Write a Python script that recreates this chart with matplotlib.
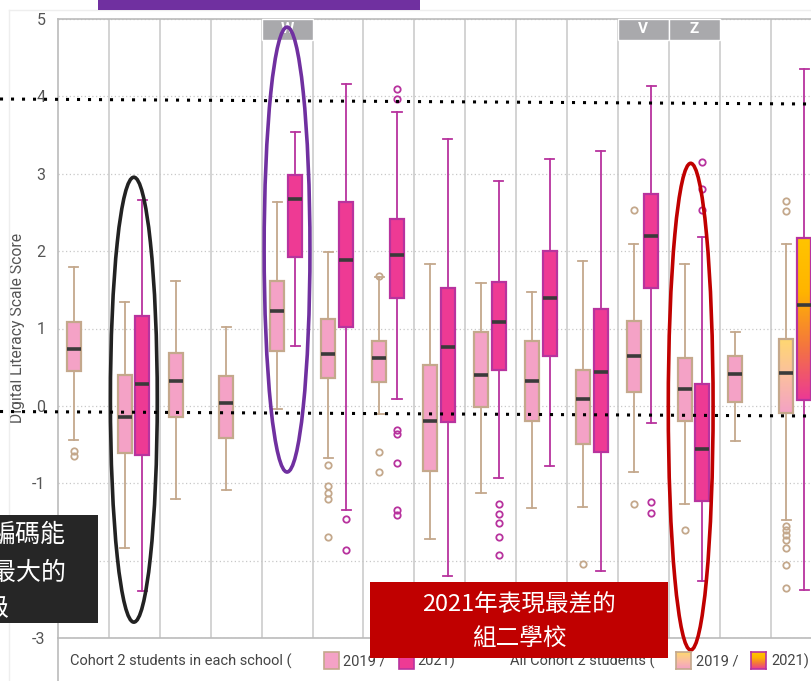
import numpy as np
import matplotlib.pyplot as plt
from matplotlib.patches import Rectangle, Ellipse
from matplotlib.lines import Line2D
from matplotlib.colors import LinearSegmentedColormap

plt.rcParams['font.family'] = ['Roboto', 'Noto Sans CJK TC', 'DejaVu Sans']

# ---- data ----
labels = ["", "", "", "", "W", "", "", "", "", "", "", "V", "Z", "", ""]

# 2019 boxes (one per column), the last column is all cohort 2 students
lo_2019 = [-0.44, -1.84, -1.21, -1.09, -0.04, -0.68, -0.11, -1.72, -1.12, -1.32, -1.31, -0.86, -1.27, -0.46, -1.48]
q1_2019 = [0.45, -0.61, -0.15, -0.42, 0.71, 0.36, 0.31, -0.84, -0.02, -0.19, -0.49, 0.18, -0.19, 0.05, -0.09]
med_2019 = [0.74, -0.14, 0.32, 0.04, 1.23, 0.67, 0.62, -0.19, 0.40, 0.32, 0.09, 0.65, 0.22, 0.41, 0.43]
q3_2019 = [1.08, 0.40, 0.68, 0.38, 1.62, 1.12, 0.84, 0.53, 0.95, 0.84, 0.47, 1.10, 0.62, 0.64, 0.87]
hi_2019 = [1.79, 1.34, 1.62, 1.02, 2.64, 1.99, 1.66, 1.84, 1.59, 1.47, 1.87, 2.09, 1.83, 0.95, 2.09]
out_2019 = [[-0.58, -0.65], [], [], [], [], [-0.76, -1.04, -1.13, -1.21, -1.69],
            [1.68, -0.59, -0.85], [], [], [], [-2.05], [2.53, -1.27], [-1.60], [],
            [2.65, 2.52, -1.55, -1.60, -1.67, -1.73, -1.84, -2.06, -2.36]]

# 2021 boxes (None = no box)
lo_2021 = [None, -2.39, None, None, 0.78, -1.34, 0.09, -2.20, -0.93, -0.78, -2.13, -0.22, -2.26, None, -2.38]
q1_2021 = [None, -0.63, None, None, 1.93, 1.02, 1.40, -0.21, 0.47, 0.65, -0.60, 1.52, -1.23, None, 0.08]
med_2021 = [None, 0.28, None, None, 2.67, 1.88, 1.95, 0.76, 1.08, 1.40, 0.44, 2.19, -0.56, None, 1.31]
q3_2021 = [None, 1.16, None, None, 2.99, 2.64, 2.42, 1.52, 1.60, 2.00, 1.25, 2.74, 0.28, None, 2.17]
hi_2021 = [None, 2.66, None, None, 3.54, 4.16, 3.80, 3.45, 2.91, 3.19, 3.30, 4.13, 2.18, None, 4.35]
out_2021 = [[], [], [], [], [], [-1.46, -1.86], [4.10, 3.97, -0.31, -0.36, -0.74, -1.34, -1.41],
            [], [-1.27, -1.40, -1.52, -1.69, -1.93], [], [], [-1.24, -1.39], [3.15, 2.80, 2.53], [], []]

yticks = [5, 4, 3, 2, 1, 0, -1, -2, -3]

W, H = 811, 681
fig = plt.figure(figsize=(W / 100, H / 100), dpi=100)


def fx(px):
    return px / W


def fy(py):
    return 1 - py / H


ax = fig.add_axes([fx(58), fy(638), (W - 58) / W, (638 - 19) / H])

n = len(labels)
pos19 = np.arange(n) + 0.31
pos21 = np.arange(n) + 0.66
bw = 0.275


def stats(lo, q1, med, q3, hi, out, idx):
    return [dict(whislo=lo[i], q1=q1[i], med=med[i], q3=q3[i], whishi=hi[i], fliers=out[i]) for i in idx]


tan = '#c4a88c'
pink = '#f4a2c6'
mag_edge = '#b8339e'
mag_fill = '#ee3a94'


def draw(st, positions, face, edge, wcol):
    ax.bxp(st, positions=positions, widths=bw, patch_artist=True, capwidths=0.18,
           boxprops=dict(facecolor=face, edgecolor=edge, linewidth=1.6),
           whiskerprops=dict(color=wcol, linewidth=1.3),
           capprops=dict(color=wcol, linewidth=1.3),
           medianprops=dict(color='#3a3a3a', linewidth=2.6, solid_capstyle='butt'),
           flierprops=dict(marker='o', markerfacecolor='none', markeredgecolor=wcol,
                           markersize=4.6, markeredgewidth=1.3))


idx19 = list(range(n - 1))
idx21 = [i for i in range(n - 1) if med_2021[i] is not None]
draw(stats(lo_2019, q1_2019, med_2019, q3_2019, hi_2019, out_2019, idx19), pos19[idx19], pink, tan, tan)
draw(stats(lo_2021, q1_2021, med_2021, q3_2021, hi_2021, out_2021, idx21), pos21[idx21], mag_fill, mag_edge, mag_edge)

# all cohort 2 students, gradient boxes
last = n - 1
draw(stats(lo_2019, q1_2019, med_2019, q3_2019, hi_2019, out_2019, [last]), [pos19[last]], 'none', tan, tan)
draw(stats(lo_2021, q1_2021, med_2021, q3_2021, hi_2021, out_2021, [last]), [pos21[last]], 'none', mag_edge, mag_edge)
cm19 = LinearSegmentedColormap.from_list('g19', ['#f4a2c4', '#fbbfa0', '#ffd870'])
cm21 = LinearSegmentedColormap.from_list('g21', ['#ec3a94', '#f4763e', '#ffb400', '#ffc400'])
grad = np.linspace(0, 1, 100).reshape(-1, 1)
ax.imshow(grad, cmap=cm19, origin='lower', aspect='auto', zorder=1.9,
          extent=[pos19[last] - bw / 2, pos19[last] + bw / 2, q1_2019[last], q3_2019[last]])
ax.imshow(grad, cmap=cm21, origin='lower', aspect='auto', zorder=1.9,
          extent=[pos21[last] - bw / 2, pos21[last] + bw / 2, q1_2021[last], q3_2021[last]])

ax.set_xlim(0, (W - 58) / 50.9)
ax.set_ylim(-3, 5)
ax.set_xticks(range(1, n))
ax.set_xticklabels([])
ax.set_yticks(yticks)
ax.set_yticklabels([str(t) for t in yticks])
ax.tick_params(length=0, labelsize=11.5, labelcolor='#555555', pad=9)
ax.xaxis.grid(True, color='#cccccc', linewidth=1.2)
ax.yaxis.grid(True, color='#c8c8c8', linewidth=0.9, linestyle=(0, (1, 2)))
ax.set_axisbelow(True)
for s in ['left', 'bottom', 'top']:
    ax.spines[s].set_color('#bbbbbb')
    ax.spines[s].set_linewidth(1.2)
ax.spines['right'].set_visible(False)
ax.set_ylabel('Digital Literacy Scale Score', fontsize=11.3, color='#555555')
ax.yaxis.set_label_coords(-33 / (W - 58), (638 - 328) / (638 - 19))

# group label tabs
for i, lab in enumerate(labels):
    if lab:
        ax.add_patch(Rectangle((i, 5 - 21 / 77.4), 1, 21 / 77.4, facecolor='#a9a9ac',
                               edgecolor='white', linewidth=1, zorder=3, clip_on=False))
        ax.text(i + 0.5, 5 - 10.5 / 77.4, lab, ha='center', va='center', color='white',
                fontsize=11, fontweight='bold', zorder=4)

# highlight ellipses
ax.add_patch(Ellipse((1.49, 0.08), 0.92, 5.75, fill=False, edgecolor='#222222', linewidth=2.6,
                     zorder=6, clip_on=False))
ax.add_patch(Ellipse((4.50, 2.02), 0.90, 5.75, fill=False, edgecolor='#7030a0', linewidth=2.6,
                     zorder=6, clip_on=False))
ax.add_patch(Ellipse((12.43, -0.01), 0.88, 6.29, fill=False, edgecolor='#c00000', linewidth=2.6,
                     zorder=6, clip_on=False))

# black dotted reference lines
for y0, y1 in [(99, 104), (411.5, 416)]:
    fig.add_artist(Line2D([0, 1], [fy(y0), fy(y1)], color='black', linewidth=2.2,
                          linestyle=(0, (1, 2.6)), zorder=7))

# frame lines
fig.add_artist(Line2D([fx(58), fx(58)], [fy(638), 0], color='#bbbbbb', linewidth=1.2))
fig.add_artist(Line2D([fx(9), fx(9)], [fy(10), 0], color='#eeeeee', linewidth=1))
fig.add_artist(Line2D([fx(9), 1], [fy(10), fy(10)], color='#eeeeee', linewidth=1))
fig.add_artist(Rectangle((fx(98), fy(10)), (420 - 98) / W, 10 / H, transform=fig.transFigure,
                         facecolor='#7030a0', edgecolor='none', zorder=8))

# legend
ly = fy(661)
lkw = dict(va='center', color='#444444', fontsize=10.5, zorder=3)
fig.text(fx(70), ly, 'Cohort 2 students in each school (', **lkw)
fig.text(fx(343), ly, '2019 /', **lkw)
fig.text(fx(417), ly, '2021)', **lkw)
fig.text(fx(510), ly, 'All Cohort 2 students (', **lkw)
fig.text(fx(696), ly, '2019 /', **lkw)
fig.text(fx(771), ly, '2021)', **lkw)
fig.add_artist(Rectangle((fx(324), fy(669)), 15 / W, 17 / H, transform=fig.transFigure,
                         facecolor=pink, edgecolor=tan, linewidth=1.2, zorder=3))
fig.add_artist(Rectangle((fx(399), fy(669)), 15 / W, 17 / H, transform=fig.transFigure,
                         facecolor=mag_fill, edgecolor=mag_edge, linewidth=1.2, zorder=3))
for x0, cm, ec in [(676, cm19, tan), (751, cm21, mag_edge)]:
    sw = fig.add_axes([fx(x0), fy(669), 15 / W, 17 / H], zorder=3)
    sw.imshow(grad, cmap=cm, origin='lower', aspect='auto')
    sw.set_xticks([])
    sw.set_yticks([])
    for s in sw.spines.values():
        s.set_color(ec)
        s.set_linewidth(1.2)

# overlay text boxes (the dark one is cut off by the left edge, as in the source)
cjk = ['Noto Sans CJK TC', 'DejaVu Sans']
fig.add_artist(Rectangle((0, fy(623)), 98 / W, (623 - 515) / H, transform=fig.transFigure,
                         facecolor='#262626', edgecolor='none', zorder=10))
fig.text(fx(65), fy(535), '編碼能', ha='right', va='center', color='white', fontsize=18,
         family=cjk, zorder=11)
fig.text(fx(66), fy(572), '差距最大的', ha='right', va='center', color='white', fontsize=18,
         family=cjk, zorder=11)
fig.text(fx(9), fy(609), '班級', ha='right', va='center', color='white', fontsize=18,
         family=cjk, zorder=11)

fig.add_artist(Rectangle((fx(370), fy(658)), 298 / W, (658 - 582) / H, transform=fig.transFigure,
                         facecolor='#c00000', edgecolor='none', zorder=10))
fig.text(fx(519), fy(605), '2021年表現最差的', ha='center', va='center', color='white',
         fontsize=17, family=cjk, zorder=11)
fig.text(fx(519), fy(638), '組二學校', ha='center', va='center', color='white',
         fontsize=17, family=cjk, zorder=11)

fig.savefig('out.png', dpi=100)
